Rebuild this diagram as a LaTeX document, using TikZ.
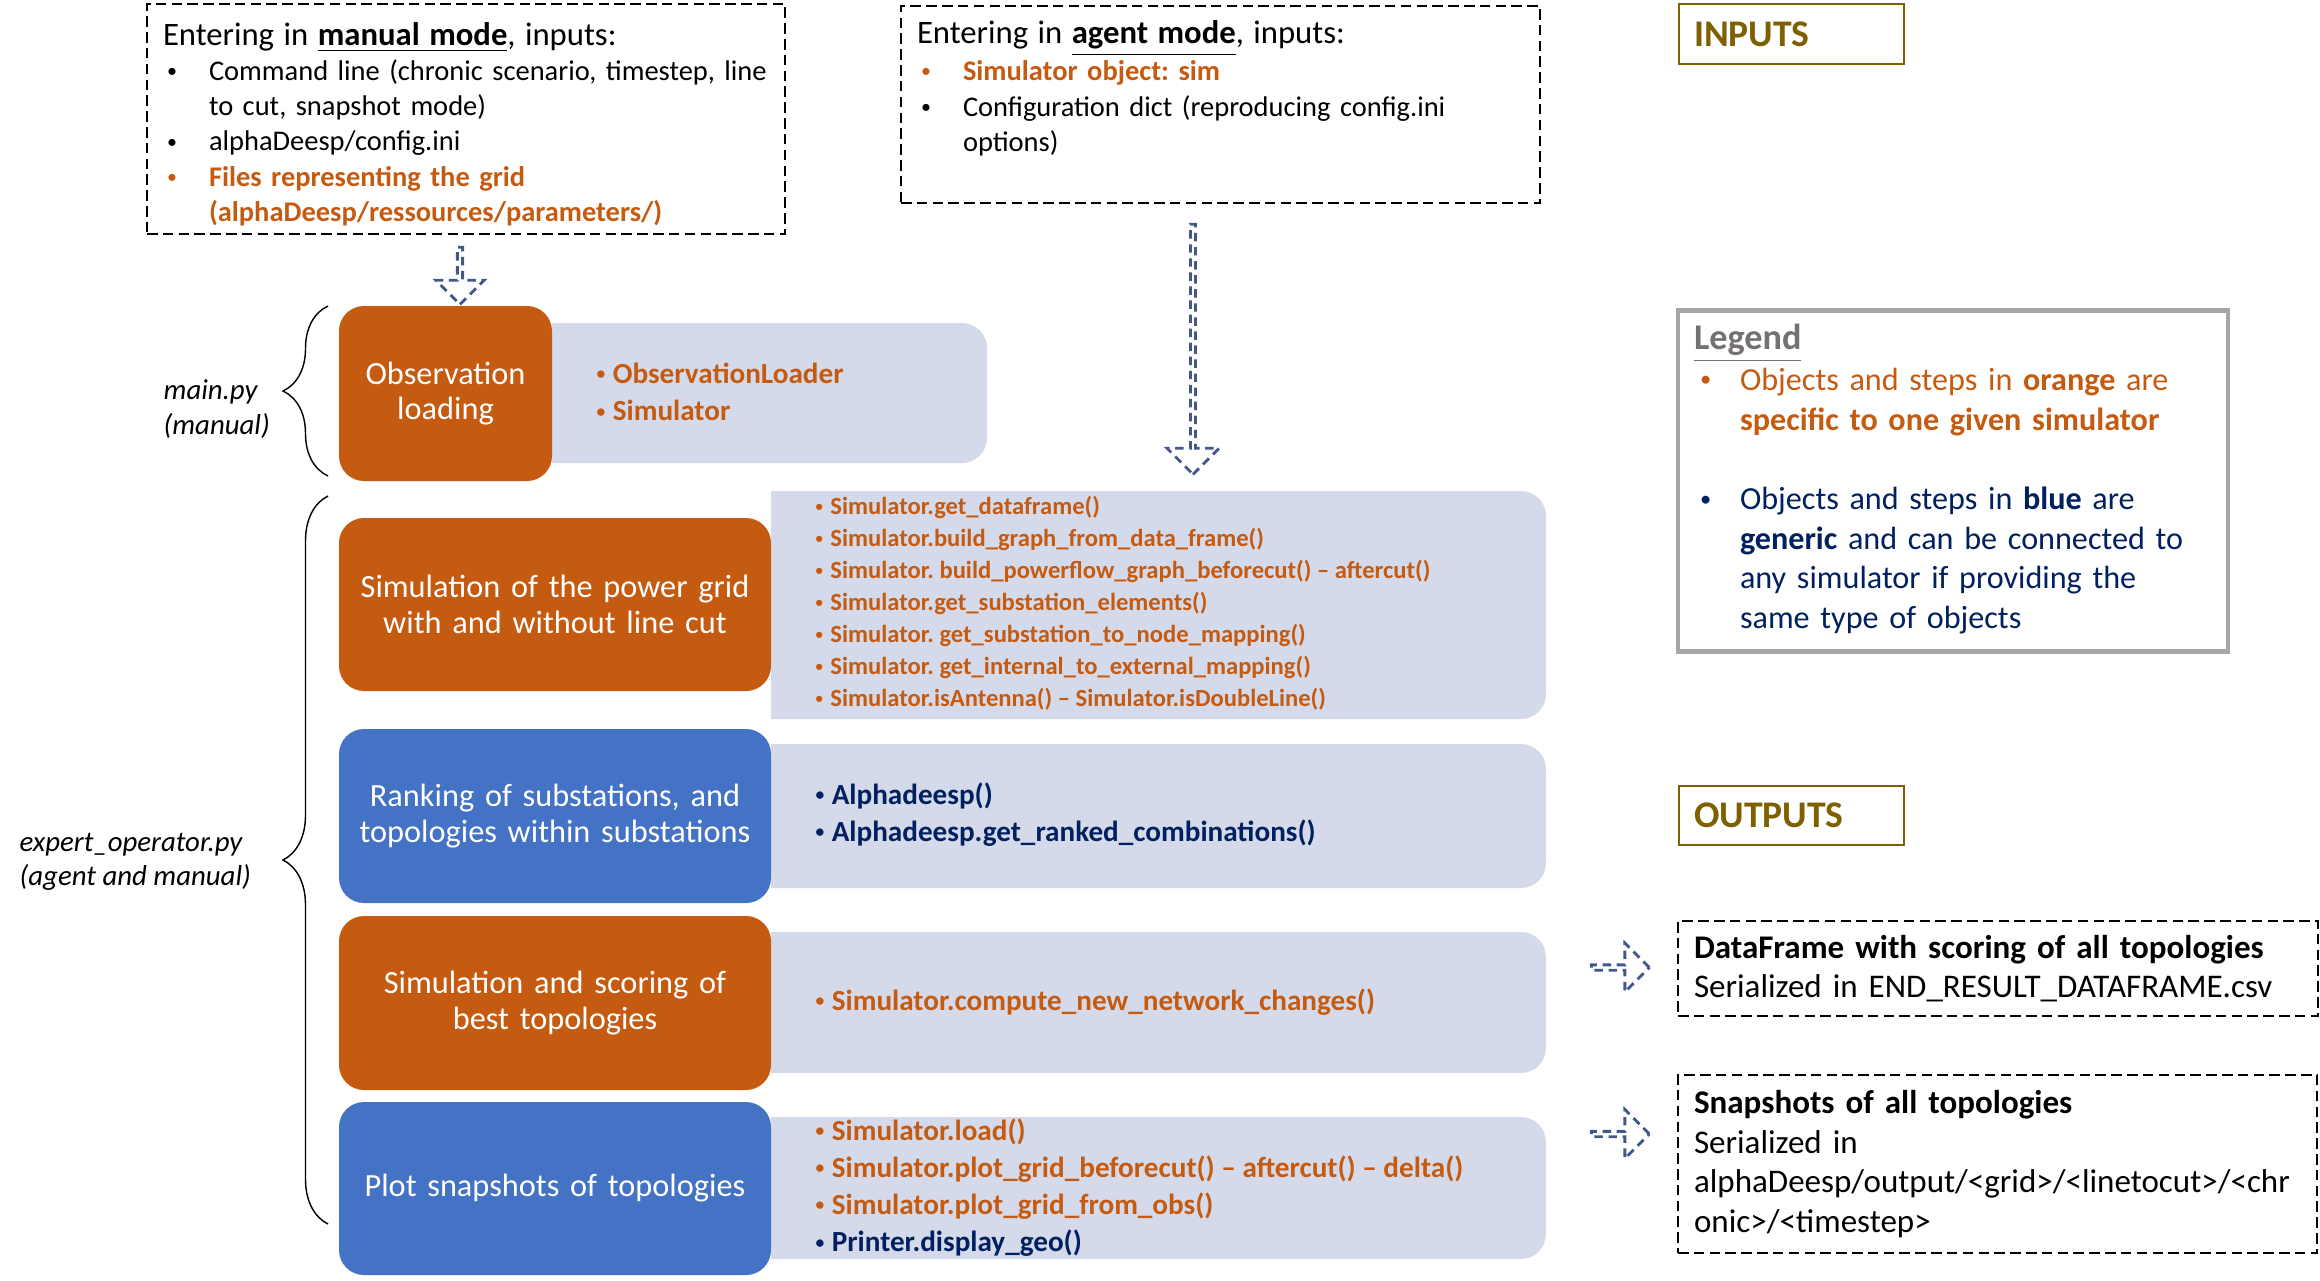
\documentclass[tikz,border=0pt]{standalone}
\usepackage{fontspec}
\setmainfont{Carlito}
\usepackage{tikz}
\usetikzlibrary{positioning, shapes.arrows, decorations.pathreplacing}

\definecolor{stepor}{HTML}{C55A11}
\definecolor{stepbl}{HTML}{4472C4}
\definecolor{panelbg}{HTML}{D5DAEA}
\definecolor{navy}{HTML}{002060}
\definecolor{gold}{HTML}{7F6000}
\definecolor{arrowbl}{HTML}{42588A}
\definecolor{legendgray}{HTML}{A6A6A6}
\definecolor{titlegray}{HTML}{767171}

\frenchspacing
\newcommand{\sbul}{\raisebox{0.22ex}{\scalebox{0.7}{\textbullet}}}
\newcommand{\pbul}{\raisebox{0.25ex}{\scalebox{0.6}{\textbullet}}\hspace{2.1pt}}
\newcommand{\boxtitle}{\fontsize{9.3}{10}\selectfont}

\begin{document}
\begin{tikzpicture}[x=0.1mm, y=-0.1mm,
    every node/.style={inner sep=0pt},
    inbox/.style={draw, line width=0.7pt, dash pattern=on 3pt off 1.5pt, inner xsep=1.6mm, inner ysep=0.2mm, align=left, font=\fontsize{8.1}{10}\selectfont},
    outbox/.style={inbox, font=\fontsize{9.4}{11.3}\selectfont},
    tagbox/.style={draw=gold, line width=0.7pt, text=gold, inner xsep=1.5mm, align=left, minimum width=22.5mm, text width=19.5mm, font=\bfseries\fontsize{10.7}{12}\selectfont},
    legendbox/.style={draw=legendgray, line width=1.2pt, inner xsep=1.6mm, align=left, font=\fontsize{9.15}{11.3}\selectfont},
    stepbox/.style={rounded corners=2.5mm, text=white, align=center, minimum width=43.2mm, text width=41mm, font=\fontsize{9.2}{10.2}\selectfont},
    orstep/.style={stepbox, fill=stepor},
    blstep/.style={stepbox, fill=stepbl},
    panel/.style={fill=panelbg, rounded corners=2.5mm},
    paneltext/.style={anchor=west, align=left, text=stepor, font=\bfseries\fontsize{8.3}{10.6}\selectfont},
    blockarrow/.style={single arrow, draw=arrowbl, line width=0.8pt, dash pattern=on 2.4pt off 1.6pt, single arrow tip angle=90},
    filelabel/.style={anchor=west, align=left, font=\itshape\fontsize{8.2}{9.8}\selectfont},
    bracepath/.style={decorate, decoration={brace, amplitude=4.5mm}}
]
\useasboundingbox (0,0) rectangle (2320,1280);

% inputs
\node[inbox, text width=60.6mm, minimum height=23mm] (manual) at (466,119) {%
  \begin{tabular}{@{}p{4.6mm}@{}l@{}}
  \multicolumn{2}{@{}l@{}}{\rule{0pt}{11.2pt}\boxtitle Entering in \underline{\textbf{manual mode}}, inputs:}\\
  \hspace{0.4mm}\sbul & Command line (chronic scenario, timestep, line\\
  & to cut, snapshot mode)\\
  \hspace{0.4mm}\sbul & alphaDeesp/config.ini\\
  \hspace{0.4mm}\textcolor{stepor}{\sbul} & \textcolor{stepor}{\textbf{Files representing the grid}}\\
  & \textcolor{stepor}{\textbf{(alphaDeesp/ressources/parameters/)}}
  \end{tabular}};
\node[inbox, text width=60.7mm, minimum height=19.7mm] (agent) at (1220.5,104.5) {%
  \begin{tabular}{@{}p{4.6mm}@{}l@{}}
  \multicolumn{2}{@{}l@{}}{\boxtitle Entering in \underline{\textbf{agent mode}}, inputs:}\\
  \hspace{0.4mm}\textcolor{stepor}{\sbul} & \textcolor{stepor}{\textbf{Simulator object: sim}}\\
  \hspace{0.4mm}\sbul & Configuration dict (reproducing config.ini\\
  & options)\\[2.8mm]
  \end{tabular}};

\node[tagbox, minimum height=6mm] (inputs) at (1791.5,34) {INPUTS};
\node[tagbox, minimum height=5.9mm] (outputs) at (1791.5,815.5) {OUTPUTS};

% legend
\node[legendbox, text width=51.8mm, minimum width=55mm, minimum height=34.1mm] (legend) at (1953,481) {%
  \begin{tabular}{@{}p{4.6mm}@{}l@{}}
  \multicolumn{2}{@{}l@{}}{\fontsize{10.3}{11.3}\selectfont\textcolor{titlegray}{\underline{\textbf{Legend}}}}\\
  \hspace{0.6mm}\textcolor{stepor}{\sbul} & \textcolor{stepor}{Objects and steps in \textbf{orange} are}\\
  & \textcolor{stepor}{\textbf{specific to one given simulator}}\\[11.3pt]
  \hspace{0.6mm}\textcolor{navy}{\sbul} & \textcolor{navy}{Objects and steps in \textbf{blue} are}\\
  & \textcolor{navy}{\textbf{generic} and can be connected to}\\
  & \textcolor{navy}{any simulator if providing the}\\
  & \textcolor{navy}{same type of objects}
  \end{tabular}};

% panels behind the steps
\begin{scope}
  \clip (552,0) rectangle (2320,1280);
  \node[panel, minimum width=46.5mm, minimum height=14mm] (obspanel) at (754.5,393) {};
\end{scope}
\begin{scope}
  \clip (771,0) rectangle (2320,1280);
  \node[panel, minimum width=80.5mm, minimum height=22.8mm] (pgpanel) at (1143.5,605) {};
  \node[panel, minimum width=80.5mm, minimum height=14.4mm] (rankpanel) at (1143.5,816) {};
  \node[panel, minimum width=80.5mm, minimum height=14.1mm] (scorepanel) at (1143.5,1002.5) {};
  \node[panel, minimum width=80.5mm, minimum height=14.2mm] (plotpanel) at (1143.5,1188) {};
\end{scope}

% steps
\node[orstep, minimum width=21.3mm, text width=20mm, minimum height=17.5mm] (obs) at (445.5,393.5) {Observation\\loading};
\node[orstep, minimum height=17.3mm] (pg) at (555,604.5) {Simulation of the power grid\\with and without line cut};
\node[blstep, minimum height=17.4mm] (rank) at (555,816) {Ranking of substations, and\\topologies within substations};
\node[orstep, minimum height=17.4mm] (score) at (555,1003) {Simulation and scoring of\\best topologies};
\node[blstep, minimum height=17.3mm] (plot) at (555,1188.5) {Plot snapshots of topologies};

% objects used by each step
\node[paneltext] (obsitems) at (596,392) {\pbul ObservationLoader\\\pbul Simulator};
\node[paneltext, font=\bfseries\fontsize{7}{9.1}\selectfont] (pgitems) at (815,603.5) {%
  \pbul Simulator.get\_dataframe()\\
  \pbul Simulator.build\_graph\_from\_data\_frame()\\
  \pbul Simulator. build\_powerflow\_graph\_beforecut() -- aftercut()\\
  \pbul Simulator.get\_substation\_elements()\\
  \pbul Simulator. get\_substation\_to\_node\_mapping()\\
  \pbul Simulator. get\_internal\_to\_external\_mapping()\\
  \pbul Simulator.isAntenna() -- Simulator.isDoubleLine()};
\node[paneltext, text=navy] (rankitems) at (815,814.5) {\pbul Alphadeesp()\\\pbul Alphadeesp.get\_ranked\_combinations()};
\node[paneltext] (scoreitems) at (815,1002) {\pbul Simulator.compute\_new\_network\_changes()};
\node[paneltext] (plotitems) at (815,1187.5) {%
  \pbul Simulator.load()\\
  \pbul Simulator.plot\_grid\_beforecut() -- aftercut() -- delta()\\
  \pbul Simulator.plot\_grid\_from\_obs()\\
  \textcolor{navy}{\pbul Printer.display\_geo()}};

% outputs
\node[outbox, text width=60.8mm, minimum width=64mm, minimum height=9.5mm] (frameout) at (1998,968.5) {%
  \textbf{DataFrame with scoring of all topologies}\\
  Serialized in END\_RESULT\_DATAFRAME.csv};
\node[outbox, text width=60.7mm, minimum width=63.9mm, minimum height=17.8mm] (snapout) at (1997.5,1164) {%
  \textbf{Snapshots of all topologies}\\
  Serialized in\\
  alphaDeesp/output/<grid>/<linetocut>/<chr\\
  onic>/<timestep>};

% dashed block arrows
\node[blockarrow, rotate=-90, minimum height=5.7mm, minimum width=4.8mm, single arrow head extend=1.15mm] (arrmanual) at (460,274.5) {};
\node[blockarrow, rotate=-90, minimum height=25mm, minimum width=5.2mm, single arrow head extend=1.3mm] (arragent) at (1193,348) {};
\node[blockarrow, minimum height=5.8mm, minimum width=4.9mm, single arrow head extend=1.15mm] (arrframe) at (1619,967.5) {};
\node[blockarrow, minimum height=5.8mm, minimum width=4.9mm, single arrow head extend=1.15mm] (arrsnap) at (1619,1134) {};

% scripts
\draw[bracepath] (328,476) -- (328,306);
\draw[bracepath] (328,1224) -- (328,496);
\node[filelabel] (mainlbl) at (163,409) {main.py\\(manual)};
\node[filelabel] (expertlbl) at (19,862) {expert\_operator.py\\(agent and manual)};

\end{tikzpicture}
\end{document}
